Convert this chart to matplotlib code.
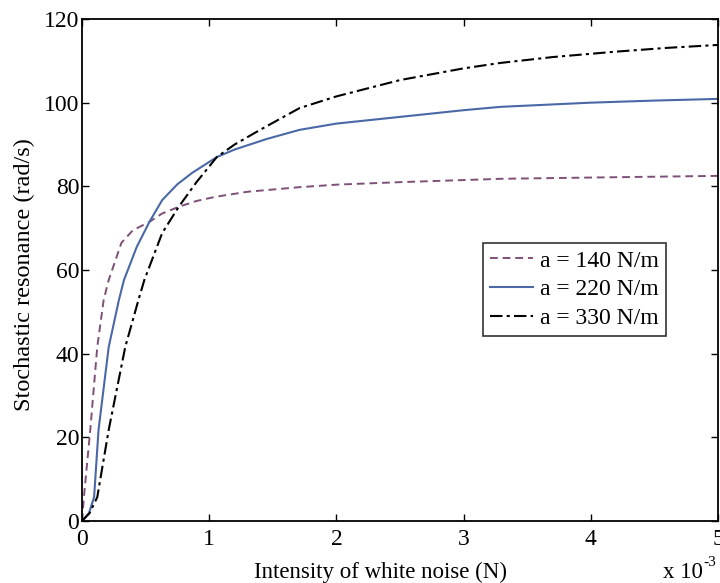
import matplotlib.pyplot as plt
import numpy as np

plt.rcParams['font.family'] = ['Liberation Serif', 'DejaVu Serif']

# noise intensity, in units of 1e-3 N
x140 = [0, 0.015, 0.065, 0.12, 0.17, 0.21, 0.31, 0.4, 0.53, 0.63, 0.76, 0.9, 1.05, 1.3,
        1.71, 2.0, 2.5, 3.0, 3.29, 4.0, 4.5, 5.0]
y140 = [0, 5.7, 21.8, 41.6, 52.8, 57.6, 66.5, 69.5, 71.5, 73.5, 75.1, 76.5, 77.5, 78.7,
        79.8, 80.4, 81.0, 81.5, 81.8, 82.1, 82.3, 82.5]

x220 = [0, 0.055, 0.095, 0.13, 0.21, 0.29, 0.33, 0.43, 0.53, 0.63, 0.75, 0.865, 1.06,
        1.2, 1.45, 1.71, 2.0, 2.5, 3.0, 3.29, 4.0, 4.5, 5.0]
y220 = [0, 1.9, 5.7, 21.8, 41.6, 52.8, 57.6, 65.5, 71.5, 76.7, 80.5, 83.2, 87.0,
        88.8, 91.3, 93.5, 95.0, 96.6, 98.2, 99.0, 100.0, 100.5, 100.9]

x330 = [0, 0.06, 0.12, 0.21, 0.34, 0.45, 0.49, 0.63, 0.76, 0.9, 1.06, 1.2, 1.4,
        1.71, 2.0, 2.5, 3.0, 3.29, 3.7, 4.2, 4.6, 5.0]
y330 = [0, 1.9, 5.7, 21.8, 41.6, 53.5, 57.6, 68.8, 75.1, 81.0, 87.0, 90.0, 93.5,
        98.7, 101.5, 105.4, 108.2, 109.5, 110.9, 112.2, 113.1, 113.8]

labels = ['a = 140 N/m', 'a = 220 N/m', 'a = 330 N/m']

fig = plt.figure(figsize=(7.2, 5.83), dpi=100)
ax = fig.add_axes([82/720, 1 - 521/583, 636/720, 502/583])

ax.plot(x140, y140, '--', color='#7e4f77', lw=1.4, label=labels[0],
        dashes=[4, 2.5])
ax.plot(x220, y220, '-', color='#4a68a6', lw=1.5, label=labels[1])
ax.plot(x330, y330, '-.', color='black', lw=1.5, label=labels[2],
        dashes=[6, 2, 1.5, 2])

ax.set_xlim(0, 5)
ax.set_ylim(0, 120)
ax.set_xticks([0, 1, 2, 3, 4, 5])
ax.set_yticks(range(0, 121, 20))
ax.tick_params(direction='in', top=True, right=True, length=5, width=1,
               labelsize=17, pad=2)
ax.tick_params(axis='x', pad=6)
for s in ax.spines.values():
    s.set_linewidth(1.3)

ax.set_xlabel('Intensity of white noise (N)', fontsize=16.5)
ax.xaxis.set_label_coords((381 - 82) / 636, -(562 - 521) / 502)
ax.set_ylabel('Stochastic resonance (rad/s)', fontsize=17.5)
ax.yaxis.set_label_coords(-(82 - 35) / 636, (521 - 275) / 502)

# exponent note under the right end of the x axis
fig.text(663/720, 1 - 578/583, 'x 10', fontsize=16.5, va='baseline')
fig.text(703/720, 1 - 566/583, '-3', fontsize=11, va='baseline')

leg = ax.legend(loc='upper left', bbox_to_anchor=(401/636, (521-243)/502),
                fontsize=17, frameon=True, fancybox=False, edgecolor='black',
                handlelength=1.8, handletextpad=0.3, borderpad=0.3,
                labelspacing=0.3, borderaxespad=0)
leg.get_frame().set_linewidth(1.2)

fig.savefig('out.png', dpi=100)
